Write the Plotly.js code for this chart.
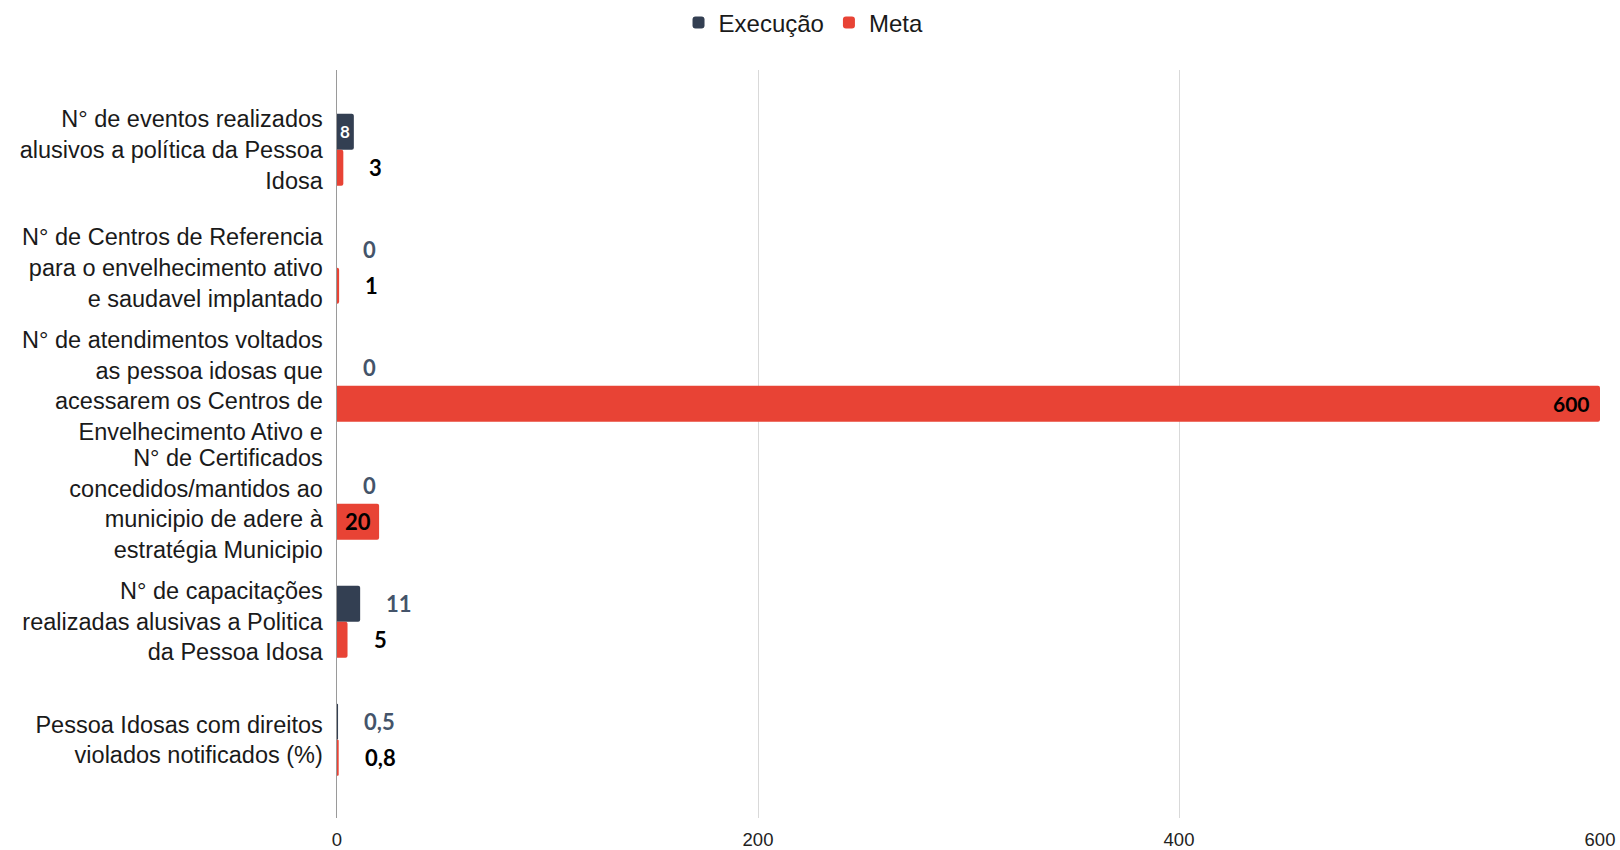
<!DOCTYPE html>
<html>
<head>
<meta charset="utf-8">
<script src="https://cdn.plot.ly/plotly-3.0.1.min.js"></script>
<style>html,body{margin:0;padding:0;background:#fff;}#chart{width:1620px;height:850px;}</style>
</head>
<body>
<div id="chart"></div>
<script>
// ---- data ----
const categories = [
  "N° de eventos realizados<br>alusivos a política da Pessoa<br>Idosa",
  "N° de Centros de Referencia<br>para o envelhecimento ativo<br>e saudavel implantado",
  "N° de atendimentos voltados<br>as pessoa idosas que<br>acessarem os Centros de<br>Envelhecimento Ativo e",
  "N° de Certificados<br>concedidos/mantidos ao<br>municipio de adere à<br>estratégia Municipio",
  "N° de capacitações<br>realizadas alusivas a Politica<br>da Pessoa Idosa",
  "Pessoa Idosas com direitos<br>violados notificados (%)"
];
const execucao = [8, 0, 0, 0, 11, 0.5];
const meta = [3, 1, 600, 20, 5, 0.8];
const execucaoLabels = ["8", "0", "0", "0", "11", "0,5"];
const metaLabels = ["3", "1", "600", "20", "5", "0,8"];
const xTicks = [0, 200, 400, 600];

// ---- style ----
const colExec = "#333f52";
const colMeta = "#e84335";
const bargap = 0.39;
const barUnit = (1 - bargap) / 2;
const labelFont = "Lato, 'Open Sans', sans-serif";
const arial = "'Liberation Sans', Arial, sans-serif";
// label placement rules (style): which labels sit inside their bars
const execInsideCenter = [0];
const metaInsideCenter = [3];
const metaInsideEnd = [2];

const cats = categories.map((c, i) => i);

const traces = [
  {type: "bar", orientation: "h", name: "Execução", y: cats, x: execucao,
   marker: {color: colExec}, hoverinfo: "x+name"},
  {type: "bar", orientation: "h", name: "Meta", y: cats, x: meta,
   marker: {color: colMeta}, hoverinfo: "x+name"}
];

const annotations = [];
function addLabels(vals, labels, sIdx, insideCenter, insideEnd, outColor, inColor, inSize) {
  vals.forEach((v, j) => {
    const yPos = j + (sIdx === 0 ? -1 : 1) * barUnit / 2;
    const a = {xref: "x", yref: "y", y: yPos, text: "<b>" + labels[j] + "</b>",
      showarrow: false, yanchor: "middle",
      font: {family: labelFont, size: 22, color: outColor}};
    if (insideCenter.includes(j)) {
      a.x = v / 2; a.xanchor = "center";
      a.font = {family: labelFont, size: inSize, color: inColor};
    } else if (insideEnd.includes(j)) {
      a.x = v; a.xanchor = "right"; a.xshift = -8;
      a.font = {family: labelFont, size: 21, color: "#000"};
    } else {
      a.x = v; a.xanchor = "left"; a.xshift = 24;
    }
    annotations.push(a);
  });
}
addLabels(execucao, execucaoLabels, 0, execInsideCenter, [], "#44546a", "#ffffff", 17);
addLabels(meta, metaLabels, 1, metaInsideCenter, metaInsideEnd, "#000000", "#000000", 22);

const layout = {
  width: 1620, height: 850,
  margin: {l: 337, r: 20, t: 70, b: 32},
  paper_bgcolor: "#fff", plot_bgcolor: "#fff",
  barmode: "group", bargap: bargap, bargroupgap: 0,
  barcornerradius: 2,
  showlegend: true,
  legend: {orientation: "h", xref: "container", yref: "container", x: 0.496, y: 0.973,
    xanchor: "center", yanchor: "middle",
    font: {family: arial, size: 24, color: "#1a1a1a"}, itemwidth: 30, tracegroupgap: 0},
  xaxis: {range: [0, 600], tickvals: xTicks, ticktext: xTicks.map(String),
    showgrid: true, gridcolor: "#d9d9d9", gridwidth: 1, zeroline: false,
    showline: false, ticks: "", ticklabelstandoff: 8,
    tickfont: {family: arial, size: 18.5, color: "#222"}, fixedrange: true},
  yaxis: {type: "linear", range: [5.664, -0.676], tickvals: cats, ticktext: categories,
    showgrid: false, zeroline: false, showline: true, linecolor: "#9a9a9a", linewidth: 1.5,
    ticks: "", ticklabelstandoff: 8,
    tickfont: {family: arial, size: 23.5, color: "#1a1a1a"}, fixedrange: true},
  annotations: annotations
};

Plotly.newPlot("chart", traces, layout, {displayModeBar: false, staticPlot: true});
</script>
</body>
</html>
